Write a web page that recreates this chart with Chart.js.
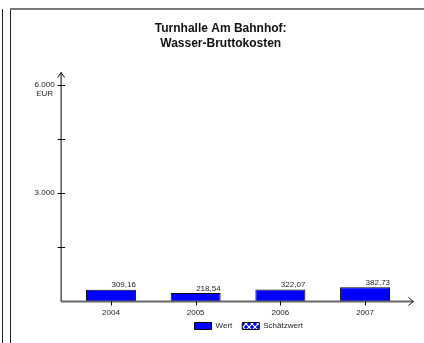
<!DOCTYPE html>
<html>
<head>
<meta charset="utf-8">
<script src="https://cdn.jsdelivr.net/npm/chart.js@4.4.1/dist/chart.umd.min.js"></script>
<style>
  html, body { margin: 0; padding: 0; background: #fff; }
  #wrap { position: relative; width: 424px; height: 343px; }
</style>
</head>
<body>
<div id="wrap"><canvas id="myChart" width="424" height="343"></canvas></div>
<script>
const years = ['2004', '2005', '2006', '2007'];
const wert = [309.16, 218.54, 322.07, 382.73];
const schaetzwert = [null, null, null, null];
const yTickValues = [0, 1500, 3000, 4500, 6000];
const yTickLabels = ['', '', '3.000', '', '6.000'];
const yUnit = 'EUR';

const FONT = "'Liberation Sans', Arial, sans-serif";

// blue box with white crosses, used for the estimate series
function crossPattern() {
    const c = document.createElement('canvas');
    c.width = 6; c.height = 6;
    const g = c.getContext('2d');
    g.fillStyle = '#0000ff';
    g.fillRect(0, 0, 6, 6);
    g.strokeStyle = '#ffffff';
    g.lineWidth = 1.2;
    g.beginPath();
    g.moveTo(0, 0); g.lineTo(6, 6);
    g.moveTo(6, 0); g.lineTo(0, 6);
    g.stroke();
    return g.createPattern(c, 'repeat');
}

function fmt(v) {
    return v.toFixed(2).replace('.', ',');
}

const framePlugin = {
    id: 'frame',
    beforeDraw(chart) {
        const ctx = chart.ctx;
        ctx.save();
        ctx.strokeStyle = '#222';
        ctx.lineWidth = 1;
        ctx.beginPath();
        ctx.moveTo(2.5, 9); ctx.lineTo(2.5, 343);
        ctx.moveTo(10.5, 9); ctx.lineTo(10.5, 343);
        ctx.stroke();
        ctx.strokeStyle = '#777';
        ctx.lineWidth = 2;
        ctx.beginPath();
        ctx.moveTo(10, 9); ctx.lineTo(424, 9);
        ctx.stroke();
        ctx.restore();
    }
};

const axesPlugin = {
    id: 'axes',
    afterDatasetsDraw(chart) {
        const { ctx, chartArea, scales: { x, y } } = chart;
        const ax = chartArea.left - 7.5;
        const ay = Math.round(y.getPixelForValue(0)) + 0.5;
        const top = y.getPixelForValue(6000) - 12;
        const right = chartArea.right + 6;
        ctx.save();
        // x axis
        ctx.strokeStyle = '#666';
        ctx.lineWidth = 2;
        ctx.beginPath();
        ctx.moveTo(ax, ay); ctx.lineTo(right, ay);
        ctx.stroke();
        ctx.strokeStyle = '#222';
        ctx.lineWidth = 1;
        ctx.beginPath();
        ctx.moveTo(right - 5, ay - 4); ctx.lineTo(right, ay); ctx.lineTo(right - 5, ay + 4);
        ctx.stroke();
        // y axis
        ctx.strokeStyle = '#000';
        ctx.beginPath();
        ctx.moveTo(ax, ay); ctx.lineTo(ax, top);
        ctx.moveTo(ax - 3.5, top + 5); ctx.lineTo(ax, top); ctx.lineTo(ax + 3.5, top + 5);
        ctx.stroke();
        ctx.beginPath();
        y.ticks.forEach(t => {
            if (t.value === 0) return;
            const py = Math.round(y.getPixelForValue(t.value)) + 0.5;
            ctx.moveTo(ax - 3.5, py); ctx.lineTo(ax + 4, py);
        });
        years.forEach((_, i) => {
            const px = Math.round(x.getPixelForValue(i)) + 0.5;
            ctx.moveTo(px, ay); ctx.lineTo(px, ay + 4);
        });
        ctx.stroke();
        // unit under the top tick label
        ctx.font = '8px ' + FONT;
        ctx.fillStyle = '#222';
        ctx.textAlign = 'center';
        ctx.textBaseline = 'middle';
        const lx = y.right - y.options.ticks.padding - ctx.measureText('6.000').width / 2;
        ctx.fillText(yUnit, lx, y.getPixelForValue(6000) + 9);
        ctx.restore();
    }
};

const valueLabels = {
    id: 'valueLabels',
    afterDatasetsDraw(chart) {
        const ctx = chart.ctx;
        const meta = chart.getDatasetMeta(0);
        ctx.save();
        ctx.font = '8px ' + FONT;
        ctx.fillStyle = '#222';
        ctx.textAlign = 'right';
        ctx.textBaseline = 'alphabetic';
        meta.data.forEach((bar, i) => {
            ctx.fillText(fmt(wert[i]), bar.x + bar.width / 2, bar.y - 2.5);
        });
        ctx.restore();
    }
};

// legend sits right of the chart centre in the original,
// and the year labels need a bit more room than the axis box
const layoutTweaks = {
    id: 'layoutTweaks',
    afterLayout(chart) {
        chart.legend.left += 28;
        chart.legend.right += 28;
        chart.scales.x.bottom += 8;
    }
};

const ctx = document.getElementById('myChart').getContext('2d');
const myChart = new Chart(ctx, {
    type: 'bar',
    data: {
        labels: years,
        datasets: [
            {
                label: 'Wert',
                data: wert,
                backgroundColor: '#0000ff',
                borderColor: '#000',
                borderWidth: 1,
                grouped: false,
            },
            {
                label: 'Schätzwert',
                data: schaetzwert,
                backgroundColor: crossPattern(),
                borderColor: '#000',
                borderWidth: 1,
                grouped: false,
            }
        ]
    },
    options: {
        responsive: false,
        animation: false,
        events: [],
        layout: { padding: { left: 34, right: 16.6, top: 0, bottom: 3 } },
        categoryPercentage: 1,
        barPercentage: 0.59,
        plugins: {
            title: {
                display: true,
                text: ['Turnhalle Am Bahnhof:', 'Wasser-Bruttokosten'],
                color: '#111',
                font: { family: FONT, size: 12, weight: 'bold', lineHeight: 1.25 },
                padding: { top: 21, bottom: 33.5 },
            },
            legend: {
                position: 'bottom',
                labels: {
                    color: '#222',
                    font: { family: FONT, size: 8 },
                    boxWidth: 17,
                    boxHeight: 7,
                    padding: 10,
                },
            },
            tooltip: { enabled: false },
        },
        scales: {
            x: {
                grid: { display: false, drawTicks: false },
                border: { display: false },
                ticks: { color: '#222', font: { family: FONT, size: 8 }, padding: 7 },
                afterFit(scale) { scale.height = 11; },
            },
            y: {
                min: 0,
                max: 6000,
                grid: { display: false, drawTicks: false },
                border: { display: false },
                afterBuildTicks(scale) {
                    scale.ticks = yTickValues.map(v => ({ value: v }));
                },
                ticks: {
                    color: '#222',
                    font: { family: FONT, size: 8 },
                    padding: 14,
                    callback: (v) => yTickLabels[yTickValues.indexOf(v)] ?? '',
                },
                afterFit(scale) { scale.width = 34.6; },
            }
        }
    },
    plugins: [framePlugin, axesPlugin, valueLabels, layoutTweaks],
});
</script>
</body>
</html>
